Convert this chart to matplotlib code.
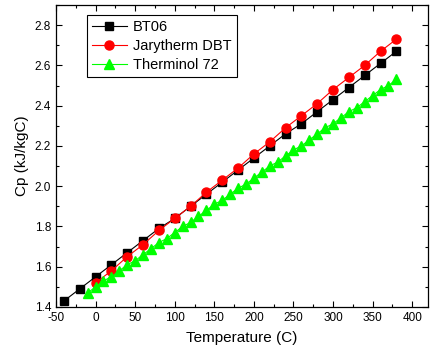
import matplotlib
matplotlib.use("Agg")
import matplotlib.pyplot as plt
from matplotlib.ticker import MultipleLocator

plt.rcParams['font.family'] = ['Liberation Sans', 'DejaVu Sans']
plt.rcParams['axes.unicode_minus'] = False

# data
t_bt06 = [-40, -20, 0, 20, 40, 60, 80, 100, 120, 140, 160, 180, 200,
          220, 240, 260, 280, 300, 320, 340, 360, 380]
cp_bt06 = [1.43, 1.49, 1.55, 1.61, 1.67, 1.73, 1.79, 1.84, 1.90, 1.96, 2.02,
           2.08, 2.14, 2.20, 2.26, 2.31, 2.37, 2.43, 2.49, 2.55, 2.61, 2.67]

t_jary = [0, 20, 40, 60, 80, 100, 120, 140, 160, 180, 200,
          220, 240, 260, 280, 300, 320, 340, 360, 380]
cp_jary = [1.52, 1.58, 1.65, 1.71, 1.78, 1.84, 1.90, 1.97, 2.03, 2.09, 2.16,
           2.22, 2.29, 2.35, 2.41, 2.48, 2.54, 2.60, 2.67, 2.73]

t_ther = [-10, 0, 10, 20, 30, 40, 50, 60, 70, 80, 90, 100, 110, 120, 130,
          140, 150, 160, 170, 180, 190, 200, 210, 220, 230, 240, 250, 260,
          270, 280, 290, 300, 310, 320, 330, 340, 350, 360, 370, 380]
cp_ther = [1.47, 1.50, 1.53, 1.55, 1.58, 1.61, 1.63, 1.66, 1.69, 1.72, 1.74,
           1.77, 1.80, 1.82, 1.85, 1.88, 1.91, 1.93, 1.96, 1.99, 2.01, 2.04,
           2.07, 2.10, 2.12, 2.15, 2.18, 2.20, 2.23, 2.26, 2.29, 2.31, 2.34,
           2.37, 2.39, 2.42, 2.45, 2.48, 2.50, 2.53]

fig = plt.figure(figsize=(4.31, 3.53), dpi=100)
ax = fig.add_axes([56/431, 1 - 307/353, (428-56)/431, (307-5)/353])

ax.plot(t_bt06, cp_bt06, color="black", lw=0.8, marker="s", ms=5.5,
        label="BT06")
ax.plot(t_jary, cp_jary, color="red", lw=0.8, marker="o", ms=6.5,
        label="Jarytherm DBT")
ax.plot(t_ther, cp_ther, color="#00ff00", lw=0.8, marker="^", ms=6.5,
        label="Therminol 72")

ax.set_xlim(-50, 420)
ax.set_ylim(1.4, 2.9)
ax.xaxis.set_major_locator(MultipleLocator(50))
ax.xaxis.set_minor_locator(MultipleLocator(25))
ax.yaxis.set_major_locator(MultipleLocator(0.2))
ax.yaxis.set_minor_locator(MultipleLocator(0.1))
ax.yaxis.set_major_formatter(matplotlib.ticker.FormatStrFormatter('%.1f'))
ax.tick_params(which="both", direction="in", top=True, right=True,
               labelsize=8.5, width=0.8)
ax.tick_params(which="major", length=4)
ax.tick_params(which="minor", length=2)
for s in ax.spines.values():
    s.set_linewidth(0.9)

ax.set_xlabel("Temperature (C)", fontsize=11, labelpad=5)
ax.set_ylabel("Cp (kJ/kgC)", fontsize=11, labelpad=4)

leg = ax.legend(loc="upper left", bbox_to_anchor=(0.083, 0.967), fontsize=10.5,
                fancybox=False, edgecolor="black", framealpha=1,
                handlelength=2.4, handletextpad=0.4, borderpad=0.35,
                labelspacing=0.35, borderaxespad=0)
leg.get_frame().set_linewidth(0.8)

fig.savefig("out.png", dpi=100)
